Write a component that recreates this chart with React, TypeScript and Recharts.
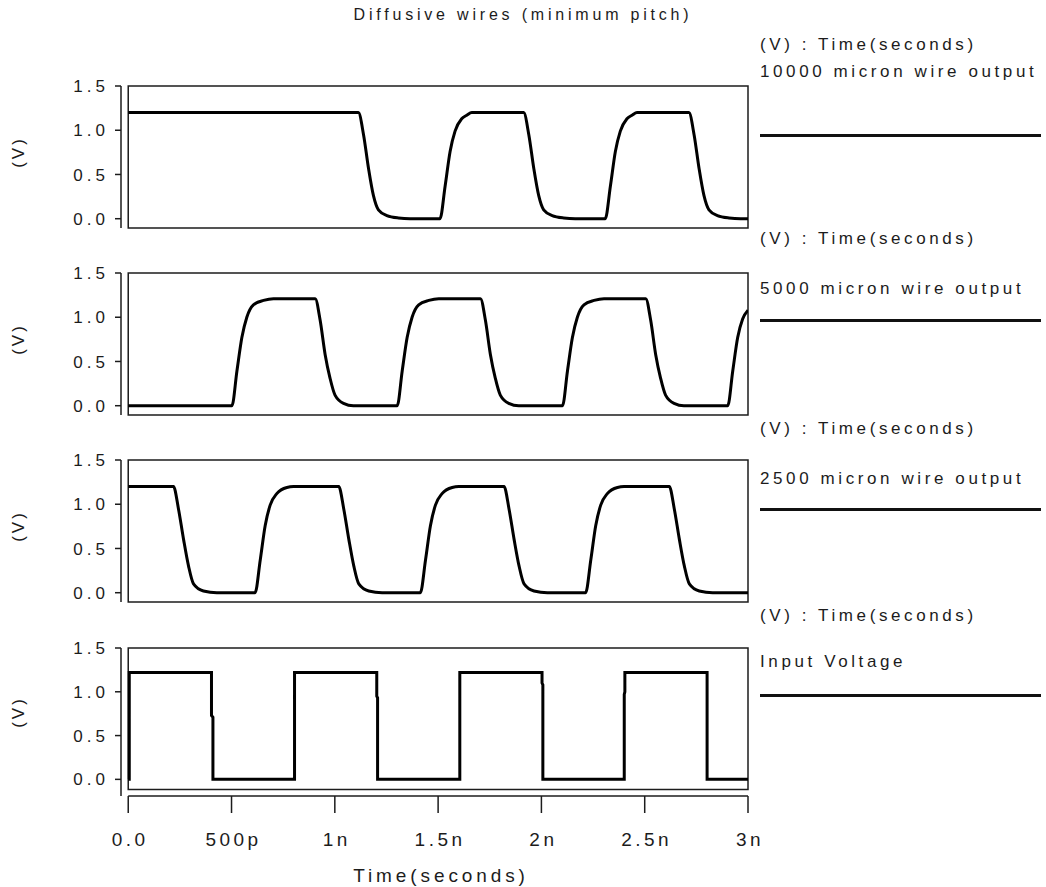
import React from 'react';
import { LineChart, Line, XAxis, YAxis, ReferenceArea, ReferenceLine } from 'recharts';

const FONT = '"Liberation Sans", Arial, Helvetica, sans-serif';
const INK = '#1c1c1c';

const titleText = 'Diffusive wires (minimum pitch)';
const headerText = '(V) : Time(seconds)';
const xAxisTitle = 'Time(seconds)';
const yAxisTitle = '(V)';
const seriesNames = [
  '10000 micron wire output',
  '5000 micron wire output',
  '2500 micron wire output',
  'Input Voltage',
];

const timeTicks = [0, 0.5, 1, 1.5, 2, 2.5, 3];
const timeTickLabels = ['0.0', '500p', '1n', '1.5n', '2n', '2.5n', '3n'];
const voltTicks = [0, 0.5, 1, 1.5];
const voltTickLabels = ['0.0', '0.5', '1.0', '1.5'];

type Pt = { t: number; v: number };

// time in ns, voltage in V
const wire10000: Pt[] = [
  { t: 0, v: 1.2 }, { t: 1.114, v: 1.2 }, { t: 1.139, v: 0.95 }, { t: 1.163, v: 0.57 },
  { t: 1.187, v: 0.26 }, { t: 1.211, v: 0.1 }, { t: 1.252, v: 0.035 }, { t: 1.308, v: 0.008 },
  { t: 1.364, v: 0 }, { t: 1.509, v: 0 }, { t: 1.534, v: 0.37 }, { t: 1.558, v: 0.76 },
  { t: 1.582, v: 0.99 }, { t: 1.614, v: 1.13 }, { t: 1.639, v: 1.17 }, { t: 1.663, v: 1.2 },
  { t: 1.914, v: 1.2 }, { t: 1.939, v: 0.95 }, { t: 1.963, v: 0.57 }, { t: 1.987, v: 0.26 },
  { t: 2.011, v: 0.1 }, { t: 2.052, v: 0.035 }, { t: 2.108, v: 0.008 }, { t: 2.164, v: 0 },
  { t: 2.309, v: 0 }, { t: 2.334, v: 0.37 }, { t: 2.358, v: 0.76 }, { t: 2.382, v: 0.99 },
  { t: 2.414, v: 1.13 }, { t: 2.439, v: 1.17 }, { t: 2.463, v: 1.2 }, { t: 2.714, v: 1.2 },
  { t: 2.739, v: 0.95 }, { t: 2.763, v: 0.57 }, { t: 2.787, v: 0.26 }, { t: 2.811, v: 0.1 },
  { t: 2.852, v: 0.035 }, { t: 2.908, v: 0.008 }, { t: 2.964, v: 0 }, { t: 3.0, v: 0 },
];

const wire5000: Pt[] = [
  { t: 0, v: 0 }, { t: 0.502, v: 0 }, { t: 0.526, v: 0.39 }, { t: 0.55, v: 0.77 },
  { t: 0.574, v: 1.0 }, { t: 0.606, v: 1.14 }, { t: 0.655, v: 1.19 }, { t: 0.703, v: 1.21 },
  { t: 0.905, v: 1.21 }, { t: 0.929, v: 0.965 }, { t: 0.953, v: 0.58 }, { t: 0.977, v: 0.31 },
  { t: 1.001, v: 0.12 }, { t: 1.042, v: 0.027 }, { t: 1.09, v: 0 }, { t: 1.302, v: 0 },
  { t: 1.326, v: 0.39 }, { t: 1.35, v: 0.77 }, { t: 1.374, v: 1.0 }, { t: 1.406, v: 1.14 },
  { t: 1.455, v: 1.19 }, { t: 1.503, v: 1.21 }, { t: 1.705, v: 1.21 }, { t: 1.729, v: 0.965 },
  { t: 1.753, v: 0.58 }, { t: 1.777, v: 0.31 }, { t: 1.801, v: 0.12 }, { t: 1.842, v: 0.027 },
  { t: 1.89, v: 0 }, { t: 2.102, v: 0 }, { t: 2.126, v: 0.39 }, { t: 2.15, v: 0.77 },
  { t: 2.174, v: 1.0 }, { t: 2.206, v: 1.14 }, { t: 2.255, v: 1.19 }, { t: 2.303, v: 1.21 },
  { t: 2.505, v: 1.21 }, { t: 2.529, v: 0.965 }, { t: 2.553, v: 0.58 }, { t: 2.577, v: 0.31 },
  { t: 2.601, v: 0.12 }, { t: 2.642, v: 0.027 }, { t: 2.69, v: 0 }, { t: 2.902, v: 0 },
  { t: 2.926, v: 0.39 }, { t: 2.95, v: 0.77 }, { t: 2.974, v: 0.98 }, { t: 3.0, v: 1.08 },
];

const wire2500: Pt[] = [
  { t: 0, v: 1.2 }, { t: 0.219, v: 1.2 }, { t: 0.243, v: 0.95 }, { t: 0.268, v: 0.6 },
  { t: 0.292, v: 0.3 }, { t: 0.316, v: 0.1 }, { t: 0.364, v: 0.02 }, { t: 0.429, v: 0 },
  { t: 0.614, v: 0 }, { t: 0.639, v: 0.37 }, { t: 0.663, v: 0.76 }, { t: 0.687, v: 0.99 },
  { t: 0.719, v: 1.12 }, { t: 0.768, v: 1.19 }, { t: 0.8, v: 1.2 }, { t: 1.019, v: 1.2 },
  { t: 1.043, v: 0.95 }, { t: 1.068, v: 0.6 }, { t: 1.092, v: 0.3 }, { t: 1.116, v: 0.1 },
  { t: 1.164, v: 0.02 }, { t: 1.229, v: 0 }, { t: 1.414, v: 0 }, { t: 1.439, v: 0.37 },
  { t: 1.463, v: 0.76 }, { t: 1.487, v: 0.99 }, { t: 1.519, v: 1.12 }, { t: 1.568, v: 1.19 },
  { t: 1.6, v: 1.2 }, { t: 1.819, v: 1.2 }, { t: 1.843, v: 0.95 }, { t: 1.868, v: 0.6 },
  { t: 1.892, v: 0.3 }, { t: 1.916, v: 0.1 }, { t: 1.964, v: 0.02 }, { t: 2.029, v: 0 },
  { t: 2.214, v: 0 }, { t: 2.239, v: 0.37 }, { t: 2.263, v: 0.76 }, { t: 2.287, v: 0.99 },
  { t: 2.319, v: 1.12 }, { t: 2.368, v: 1.19 }, { t: 2.4, v: 1.2 }, { t: 2.619, v: 1.2 },
  { t: 2.643, v: 0.95 }, { t: 2.668, v: 0.6 }, { t: 2.692, v: 0.3 }, { t: 2.716, v: 0.1 },
  { t: 2.764, v: 0.02 }, { t: 2.829, v: 0 }, { t: 3.0, v: 0 },
];

const inputVoltage: Pt[] = [
  { t: 0, v: 0 }, { t: 0.005, v: 0 }, { t: 0.005, v: 1.22 }, { t: 0.403, v: 1.22 },
  { t: 0.403, v: 0.73 }, { t: 0.41, v: 0.71 }, { t: 0.41, v: 0 }, { t: 0.805, v: 0 },
  { t: 0.805, v: 1.22 }, { t: 1.203, v: 1.22 }, { t: 1.203, v: 0.95 }, { t: 1.207, v: 0.93 },
  { t: 1.207, v: 0 }, { t: 1.605, v: 0 }, { t: 1.605, v: 1.22 }, { t: 2.003, v: 1.22 },
  { t: 2.003, v: 1.1 }, { t: 2.007, v: 1.08 }, { t: 2.007, v: 0 }, { t: 2.401, v: 0 },
  { t: 2.401, v: 0.97 }, { t: 2.404, v: 1.0 }, { t: 2.404, v: 1.22 }, { t: 2.802, v: 1.22 },
  { t: 2.802, v: 0 }, { t: 3.0, v: 0 },
];

const LS_TICK = 4;
const LS_TEXT = 3.6;

const YTick = (props: any) => {
  const { x, y, payload } = props;
  const idx = voltTicks.indexOf(payload.value);
  return (
    <text x={x + LS_TICK} y={y} dy="0.36em" textAnchor="end" fontSize={17} fontFamily={FONT} fill={INK} letterSpacing={LS_TICK}>
      {voltTickLabels[idx]}
    </text>
  );
};

const XTick = (props: any) => {
  const { x, y, payload } = props;
  const idx = timeTicks.indexOf(payload.value);
  return (
    <text x={x + 2} y={y} dy="0.71em" textAnchor="middle" fontSize={19} fontFamily={FONT} fill={INK} letterSpacing={3.5}>
      {timeTickLabels[idx]}
    </text>
  );
};

type PanelProps = {
  data: Pt[];
  plotTop: number;
  plotHeight: number;
  yMin: number;
  boxMin: number;
  showX: boolean;
  curve: 'monotone' | 'linear';
  labelShift: number;
};

function Panel({ data, plotTop, plotHeight, yMin, boxMin, showX, curve, labelShift }: PanelProps) {
  const mTop = 12;
  const xAxisH = 91;
  const height = mTop + plotHeight + (showX ? xAxisH : 12);
  const yLabel = (p: any) => {
    const vb = p.viewBox || {};
    const yc = (vb.y ?? mTop) + (vb.height ?? plotHeight) / 2 + labelShift;
    return (
      <text x={18} y={yc} transform={`rotate(-90, 18, ${yc})`} textAnchor="middle" dominantBaseline="central" fontSize={17} fontFamily={FONT} fill={INK} letterSpacing={3}>
        {yAxisTitle}
      </text>
    );
  };
  const xLabel = (p: any) => {
    const vb = p.viewBox || {};
    const yb = (vb.y ?? 0) + 86;
    return (
      <text x={441} y={yb} textAnchor="middle" fontSize={19} fontFamily={FONT} fill={INK} letterSpacing={3.9}>
        {xAxisTitle}
      </text>
    );
  };
  return (
    <div style={{ position: 'absolute', left: 0, top: plotTop - mTop }}>
      <LineChart
        width={790}
        height={height}
        data={data}
        margin={{ top: mTop, right: 42, bottom: showX ? 0 : 12, left: 0 }}
      >
        <XAxis
          dataKey="t"
          type="number"
          domain={[-0.035, 3]}
          ticks={timeTicks}
          interval={0}
          allowDataOverflow
          hide={!showX}
          height={xAxisH}
          axisLine={false}
          tickSize={17}
          tickMargin={20}
          tickLine={{ stroke: INK, strokeWidth: 1.5 }}
          tick={XTick}
          label={showX ? xLabel : undefined}
        />
        <YAxis
          type="number"
          domain={[yMin, 1.5]}
          ticks={voltTicks}
          interval={0}
          allowDataOverflow
          width={121}
          tickSize={6}
          tickMargin={10}
          axisLine={{ stroke: INK, strokeWidth: 1.5 }}
          tickLine={{ stroke: INK, strokeWidth: 1.5 }}
          tick={YTick}
          label={yLabel}
        />
        <ReferenceArea x1={0} x2={3} y1={boxMin} y2={1.5} fill="none" fillOpacity={0} stroke={INK} strokeWidth={1.5} ifOverflow="visible" />
        {showX && (
          <ReferenceLine segment={[{ x: 0, y: yMin }, { x: 3, y: yMin }]} stroke={INK} strokeWidth={1.5} ifOverflow="visible" />
        )}
        <Line dataKey="v" type={curve} stroke="#000" strokeWidth={3} dot={false} isAnimationActive={false} />
      </LineChart>
    </div>
  );
}

const textStyle: React.CSSProperties = {
  position: 'absolute',
  fontFamily: FONT,
  fontSize: 17,
  lineHeight: '20px',
  color: INK,
  letterSpacing: LS_TEXT,
  whiteSpace: 'nowrap',
};

function LegendBlock({ name, headerY, labelY, lineY }: { name: string; headerY: number; labelY: number; lineY: number }) {
  return (
    <>
      <div style={{ ...textStyle, left: 760, top: headerY - 10 }}>{headerText}</div>
      <div style={{ ...textStyle, left: 760, top: labelY - 10 }}>{name}</div>
      <div style={{ position: 'absolute', left: 760, top: lineY - 1.5, width: 281, height: 3, background: '#111' }} />
    </>
  );
}

export default function App() {
  return (
    <div style={{ position: 'absolute', left: 0, top: 0, width: 1046, height: 887, background: '#fff', overflow: 'hidden' }}>
      <div style={{ ...textStyle, left: 0, top: 5, width: 1046, textAlign: 'center', fontSize: 16, letterSpacing: 3.8 }}>{titleText}</div>

      <Panel data={wire10000} plotTop={86} plotHeight={142} yMin={-0.105} boxMin={-0.105} showX={false} curve="monotone" labelShift={-5} />
      <Panel data={wire5000} plotTop={273} plotHeight={142} yMin={-0.105} boxMin={-0.105} showX={false} curve="monotone" labelShift={-5} />
      <Panel data={wire2500} plotTop={460} plotHeight={142} yMin={-0.105} boxMin={-0.105} showX={false} curve="monotone" labelShift={-5} />
      <Panel data={inputVoltage} plotTop={648} plotHeight={148} yMin={-0.19} boxMin={-0.115} showX={true} curve="linear" labelShift={-10} />

      <LegendBlock name={seriesNames[0]} headerY={45} labelY={71.5} lineY={135} />
      <LegendBlock name={seriesNames[1]} headerY={239} labelY={289} lineY={320} />
      <LegendBlock name={seriesNames[2]} headerY={429} labelY={479} lineY={509} />
      <LegendBlock name={seriesNames[3]} headerY={616} labelY={662} lineY={695} />
    </div>
  );
}
